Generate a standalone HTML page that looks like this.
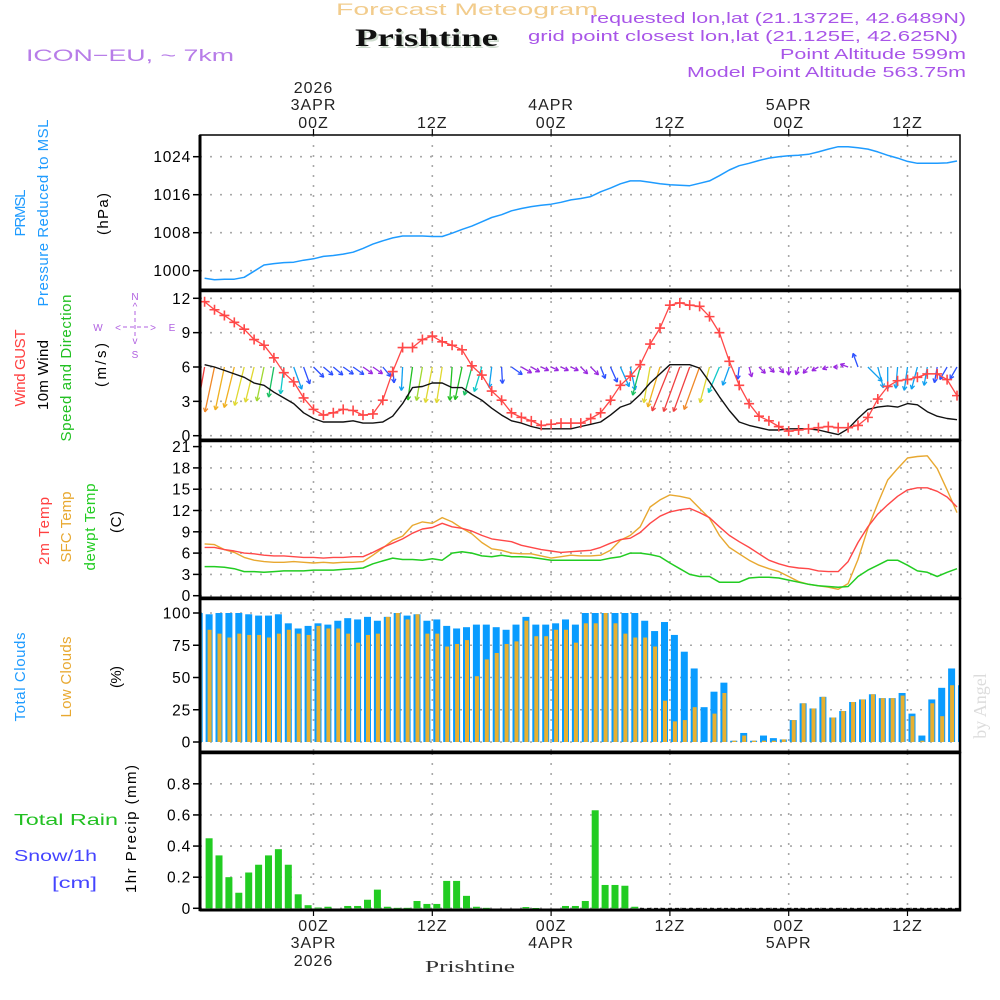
<!DOCTYPE html>
<html><head><meta charset="utf-8"><style>
html,body{margin:0;padding:0;background:#fff;}
svg{display:block;font-family:"Liberation Sans",sans-serif;}
</style></head><body>
<svg id="chart" width="1000" height="1000" viewBox="0 0 1000 1000" xmlns="http://www.w3.org/2000/svg">
<defs>
<clipPath id="c1"><rect x="200" y="135" width="760" height="155"/></clipPath>
<clipPath id="c2"><rect x="200" y="291" width="760" height="149"/></clipPath>
<clipPath id="c3"><rect x="200" y="441" width="760" height="157"/></clipPath>
<clipPath id="c4"><rect x="200" y="599" width="760" height="153"/></clipPath>
<clipPath id="c5"><rect x="200" y="753" width="760" height="157"/></clipPath>
</defs>
<!-- header -->
<text x="336" y="15" font-size="17" fill="#f2cc8c" textLength="262" lengthAdjust="spacingAndGlyphs">Forecast Meteogram</text>
<text x="357" y="48" font-size="25" font-weight="bold" font-family="Liberation Serif,serif" fill="#cfdccf" textLength="143" lengthAdjust="spacingAndGlyphs">Prishtine</text>
<text x="355" y="46" font-size="25" font-weight="bold" font-family="Liberation Serif,serif" fill="#111" textLength="143" lengthAdjust="spacingAndGlyphs">Prishtine</text>
<text x="26" y="61" font-size="17" fill="#b77ce8" textLength="208" lengthAdjust="spacingAndGlyphs">ICON−EU, ~ 7km</text>
<text x="590" y="23" font-size="15" fill="#a855e8" textLength="376" lengthAdjust="spacingAndGlyphs">requested lon,lat (21.1372E, 42.6489N)</text>
<text x="528" y="41" font-size="15" fill="#a855e8" textLength="430" lengthAdjust="spacingAndGlyphs">grid point closest lon,lat (21.125E, 42.625N)</text>
<text x="780" y="59" font-size="15" fill="#a855e8" textLength="186" lengthAdjust="spacingAndGlyphs">Point Altitude 599m</text>
<text x="687" y="77" font-size="15" fill="#a855e8" textLength="279" lengthAdjust="spacingAndGlyphs">Model Point Altitude 563.75m</text>

<!-- left labels -->
<g font-size="15">
<text transform="translate(25,213) rotate(-90)" text-anchor="middle" fill="#1e9bff" textLength="47" lengthAdjust="spacing">PRMSL</text>
<text transform="translate(48,213) rotate(-90)" text-anchor="middle" fill="#1e9bff" textLength="187" lengthAdjust="spacing">Pressure Reduced to MSL</text>
<text transform="translate(108,214) rotate(-90)" text-anchor="middle" fill="#000" textLength="42" lengthAdjust="spacing">(hPa)</text>
<text transform="translate(25,368) rotate(-90)" text-anchor="middle" fill="#ff4040" textLength="77" lengthAdjust="spacing">Wind GUST</text>
<text transform="translate(48,375) rotate(-90)" text-anchor="middle" fill="#000" textLength="70" lengthAdjust="spacing">10m Wind</text>
<text transform="translate(71,368) rotate(-90)" text-anchor="middle" fill="#22c022" textLength="147" lengthAdjust="spacing">Speed and Direction</text>
<text transform="translate(106,365) rotate(-90)" text-anchor="middle" fill="#000" textLength="44" lengthAdjust="spacing">(m/s)</text>
<text transform="translate(49,531) rotate(-90)" text-anchor="middle" fill="#ff4040" textLength="68" lengthAdjust="spacing">2m Temp</text>
<text transform="translate(71,527) rotate(-90)" text-anchor="middle" fill="#e8a830" textLength="71" lengthAdjust="spacing">SFC Temp</text>
<text transform="translate(95,527) rotate(-90)" text-anchor="middle" fill="#22cc22" textLength="87" lengthAdjust="spacing">dewpt Temp</text>
<text transform="translate(121,522) rotate(-90)" text-anchor="middle" fill="#000" textLength="22" lengthAdjust="spacing">(C)</text>
<text transform="translate(25,677) rotate(-90)" text-anchor="middle" fill="#1e9bff" textLength="89" lengthAdjust="spacing">Total Clouds</text>
<text transform="translate(71,677) rotate(-90)" text-anchor="middle" fill="#e8a830" textLength="81" lengthAdjust="spacing">Low Clouds</text>
<text transform="translate(121,677) rotate(-90)" text-anchor="middle" fill="#000" textLength="22" lengthAdjust="spacing">(%)</text>
<text x="14" y="825" font-size="16" fill="#22c022" textLength="104" lengthAdjust="spacingAndGlyphs">Total  Rain</text>
<text x="14" y="861" font-size="16" fill="#4444ff" textLength="83" lengthAdjust="spacingAndGlyphs">Snow/1h</text>
<text x="52" y="888" font-size="16" fill="#4444ff" textLength="45" lengthAdjust="spacingAndGlyphs">[cm]</text>
<text transform="translate(136,829) rotate(-90)" text-anchor="middle" fill="#000" textLength="128" lengthAdjust="spacing">1hr Precip (mm)</text>
</g>
<!-- compass -->
<g fill="#b060e0" font-size="10" text-anchor="middle">
<text x="135" y="300">N</text><text x="135" y="310">^</text>
<text x="98" y="331">W</text><text x="118" y="331">&lt;</text><text x="153" y="331">&gt;</text><text x="172" y="331">E</text>
<text x="135" y="344">v</text><text x="135" y="358">S</text>
<line x1="123" y1="327" x2="148" y2="327" stroke="#b060e0" stroke-dasharray="4 3"/>
<line x1="135" y1="311" x2="135" y2="338" stroke="#b060e0" stroke-dasharray="4 3"/>
</g>
<text transform="translate(986,706) rotate(-90)" text-anchor="middle" font-family="Liberation Serif,serif" font-size="18" fill="#dcdcdc">by Angel</text>
<text x="425" y="972" font-family="Liberation Serif,serif" font-size="17" fill="#333" textLength="90" lengthAdjust="spacingAndGlyphs">Prishtine</text>

<g id="grid"></g>
<g id="marks"></g>
<g id="frames"></g>
<g id="axes"></g>
</svg>
<script>
// ---- data (hourly, hours relative to 00Z 3 APR 2026) ----
const lineStartHour = -11;
const barStartHour = -12;
const pressure = [998.4,998.1,998.2,998.2,998.6,999.9,1001.2,1001.5,1001.7,1001.8,1002.2,
1002.5,1003.0,1003.2,1003.5,1003.9,1004.7,1005.6,1006.3,1006.9,1007.3,1007.3,1007.3,1007.2,1007.2,1007.9,1008.7,1009.4,1010.3,1011.2,1011.8,1012.6,1013.1,1013.5,1013.8,1014.0,1014.4,1014.9,
1015.2,1015.6,1016.6,1017.4,1018.3,1018.9,1018.9,1018.6,1018.3,1018.1,1018.0,1017.9,1018.4,1018.9,1020.0,1021.2,1022.1,1022.6,1023.2,1023.7,1024.0,1024.2,1024.3,1024.5,1025.0,1025.6,1026.1,1026.1,1025.9,1025.6,1025.0,1024.3,1023.7,1023.0,1022.6,1022.6,1022.6,1022.7,1023.1];
const windGust = [11.7,11.0,10.5,9.9,9.3,8.4,7.9,6.8,5.5,4.7,3.3,
2.3,1.8,2.0,2.3,2.2,1.8,1.9,3.1,5.6,7.7,7.7,8.4,8.7,8.2,7.9,7.5,6.1,5.3,3.9,3.1,2.0,1.6,1.3,0.9,1.0,1.1,1.1,
1.1,1.5,2.0,3.1,4.4,5.2,6.2,8.0,9.4,11.4,11.6,11.4,11.3,10.4,9.0,6.5,4.4,2.8,1.7,1.3,0.8,0.4,0.5,0.6,0.7,0.8,0.7,0.7,0.9,1.6,3.2,4.3,4.8,4.9,5.1,5.4,5.4,4.9,3.5];
const windSpeed = [6.2,6.0,5.7,5.4,5.1,4.6,4.4,3.8,3.3,2.8,2.0,
1.5,1.2,1.2,1.2,1.3,1.1,1.1,1.2,1.7,2.8,4.2,4.3,4.6,4.6,4.2,4.2,3.6,3.1,2.4,1.8,1.3,1.1,0.8,0.6,0.6,0.6,0.6,
0.8,1.0,1.2,1.8,2.5,2.8,3.6,4.6,5.4,6.2,6.2,6.2,5.9,4.7,3.4,2.2,1.2,0.9,0.7,0.5,0.5,0.6,0.6,0.6,0.5,0.3,0.1,0.6,1.5,2.3,2.5,2.6,2.5,2.8,2.7,2.1,1.7,1.5,1.4];
const windDir = [10,12,12,14,14,14,12,10,7,-20,-20,
-45,-50,-50,-55,-55,-55,-55,-40,-5,3,8,10,11,9,4,12,15,17,7,-3,-55,-60,-60,-65,-65,-65,-65,
-45,-45,-22,-24,-24,-12,15,10,17,22,20,20,20,15,23,20,7,-15,-45,-45,-40,0,20,40,60,70,90,110,160,-45,-15,0,5,8,15,10,10,30,30];
const temp2m = [6.8,6.8,6.5,6.3,6.0,5.9,5.7,5.6,5.6,5.5,5.4,
5.4,5.3,5.4,5.4,5.5,5.5,6.1,6.8,7.4,8.0,8.8,9.4,9.6,10.2,9.7,9.5,9.1,8.5,8.0,7.8,7.6,7.1,6.8,6.5,6.3,6.1,6.2,6.3,
6.4,6.8,7.4,7.9,8.1,8.9,10.2,11.2,11.8,12.1,12.3,11.7,11.0,9.7,8.5,7.6,6.8,5.9,5.0,4.5,4.1,3.9,3.8,3.5,3.4,3.4,4.8,7.5,9.7,11.5,12.8,14.0,14.9,15.2,15.2,14.7,13.9,12.5];
const tempSfc = [7.3,7.2,6.5,6.1,5.4,5.0,4.8,4.7,4.7,4.8,4.7,
4.6,4.7,4.6,4.7,4.7,4.8,5.7,6.7,7.8,8.4,9.9,10.4,10.2,11.0,10.4,9.5,8.7,7.5,6.6,6.4,6.0,5.9,5.9,5.6,5.3,5.5,5.7,5.6,
5.6,5.7,6.4,7.8,8.5,9.7,12.5,13.5,14.2,14.0,13.7,12.3,10.9,8.5,6.8,5.9,5.0,4.3,3.8,3.4,2.7,2.0,1.6,1.4,1.2,0.9,1.7,5.1,9.5,13.0,16.3,17.9,19.4,19.6,19.7,17.9,14.9,11.7];
const dewPoint = [4.1,4.1,4.0,3.8,3.4,3.4,3.3,3.4,3.5,3.5,3.5,
3.6,3.6,3.6,3.7,3.8,3.9,4.5,4.9,5.3,5.1,5.1,5.0,5.2,5.0,6.0,6.2,6.0,5.6,5.5,5.7,5.5,5.5,5.4,5.2,5.0,5.0,5.0,5.0,
5.0,5.0,5.3,5.5,6.0,6.0,5.8,5.5,4.6,3.8,3.0,2.7,2.7,1.9,1.9,1.9,2.5,2.6,2.6,2.5,2.2,1.9,1.6,1.4,1.3,1.2,1.3,2.7,3.6,4.3,5.0,5.0,4.3,3.5,3.3,2.7,3.3,3.8];
const totalClouds = [100,99,100,100,100,99,98,98,99,92,88,90,92,91,94,96,95,97,94,97,100,98,99,94,95,90,88,89,91,91,89,87,91,97,91,91,92,95,91,100,
100,100,100,100,100,94,86,93,83,70,57,27,39,46,1,7,1,5,3,2,17,30,26,35,19,24,31,33,37,34,34,38,22,5,33,42,57,44];
const lowClouds = [87,87,84,81,84,83,83,81,84,87,84,83,90,88,88,84,77,83,84,97,100,95,99,84,84,74,76,79,51,64,69,76,78,94,82,82,87,87,77,92,
92,100,92,84,81,81,74,32,16,17,27,0,22,38,1,5,1,1,1,2,17,30,26,35,19,24,31,33,37,34,34,36,20,1,30,20,44,35];
const precip = [0,0.45,0.34,0.20,0.10,0.23,0.28,0.34,0.38,0.28,0.09,0.02,0.005,0.01,0,0.015,0.015,0.055,0.12,0.01,0.003,0.003,0.047,0.028,0.028,0.176,0.176,0.08,0.01,0.003,0,0,0,0.008,0.002,0,0,0.015,0.015,0.047,0.63,0.15,0.15,0.145,0.01,
0,0,0,0,0,0,0,0,0,0,0,0,0,0,0,0,0,0,0,0,0,0,0,0,0,0,0,0,0,0,0,0,0];
const pressureTicks = [1000,1008,1016,1024];
const windTicks = [0,3,6,9,12];
const tempTicks = [0,3,6,9,12,15,18,21];
const cloudTicks = [0,25,50,75,100];
const precipTicks = [0,0.2,0.4,0.6,0.8];
const precipTickLabels = ["0","0.2","0.4","0.6","0.8"];
const timeTickHours = [0,12,24,36,48,60];
const timeTickLabels = ["00Z","12Z","00Z","12Z","00Z","12Z"];
const dateLabels = [["2026","3APR"],[],["4APR"],[],["5APR"],[]];

// ---- scales ----
const NS="http://www.w3.org/2000/svg";
const X0=200, X1=960;
function xOf(h){return 313.5+h*9.9;}
function yP(p){return 270.7-(p-1000)*4.75;}
function yW(v){return 435.7-v*11.45;}
function yT(t){return 595.7-t*7.1;}
function yC(c){return 742-c*1.29;}
function yR(v){return 908.3-v*155.6;}
function mk(tag,attrs,parent){const e=document.createElementNS(NS,tag);for(const k in attrs)e.setAttribute(k,attrs[k]);parent.appendChild(e);return e;}
const grid=document.getElementById('grid'), marks=document.getElementById('marks'), frames=document.getElementById('frames'), axes=document.getElementById('axes');
const panels=[{t:135,b:290,c:'c1'},{t:291,b:440,c:'c2'},{t:441,b:598,c:'c3'},{t:599,b:752,c:'c4'},{t:753,b:910,c:'c5'}];

function hgrid(ticks,yf,labels,name){
  ticks.forEach((v,i)=>{
    const y=yf(v);
    const g=mk('line',{x1:X0,x2:X1,y1:y,y2:y,stroke:'#a8a8a8','stroke-width':1.6,'stroke-dasharray':'2 8'},grid);
    
    
    const t=mk('line',{x1:193,x2:X0,y1:y,y2:y,stroke:'#000','stroke-width':1.5},axes);
    
    
    const l=mk('text',{x:191,y:y+5.5,'text-anchor':'end','font-size':15.5,fill:'#000','letter-spacing':'0.8'},axes);
    l.textContent=labels?labels[i]:String(v);
    
    
  });
}
hgrid(pressureTicks,yP,null,'pressure');
hgrid(windTicks,yW,null,'wind');
hgrid(tempTicks,yT,null,'temp');
hgrid(cloudTicks,yC,null,'cloud');
hgrid(precipTicks,yR,precipTickLabels,'precip');
timeTickHours.forEach((h,i)=>{
  const x=xOf(h);
  panels.forEach(p=>{
    const g=mk('line',{x1:x,x2:x,y1:p.t,y2:p.b,stroke:'#a8a8a8','stroke-width':1.6,'stroke-dasharray':'2 8'},grid);
    
    
  });
  const tt=mk('line',{x1:x,x2:x,y1:129,y2:135,stroke:'#000','stroke-width':1.2},axes);
  
  
  const tb=mk('line',{x1:x,x2:x,y1:910,y2:916,stroke:'#000','stroke-width':1.2},axes);
  
  
  const top=mk('text',{x:x,y:128,'text-anchor':'middle','font-size':16,fill:'#222','letter-spacing':'1'},axes);
  top.textContent=timeTickLabels[i];
  
  
  const bot=mk('text',{x:x,y:931,'text-anchor':'middle','font-size':16,fill:'#222','letter-spacing':'1'},axes);
  bot.textContent=timeTickLabels[i];
  
  
  const dl=dateLabels[i];
  if(dl.length){
    dl.slice().reverse().forEach((s,j)=>{
      const a=mk('text',{x:x,y:110-17*j,'text-anchor':'middle','font-size':16,fill:'#222','letter-spacing':'1'},axes);
      a.textContent=s;
      
      
    });
    const bl=dl.length===2?[dl[1],dl[0]]:dl;
    bl.forEach((s,j)=>{
      const a=mk('text',{x:x,y:948+18*j,'text-anchor':'middle','font-size':16,fill:'#222','letter-spacing':'1'},axes);
      a.textContent=s;
      
      
    });
  }
});

function polyline(arr,yf,color,clip,name,w){
  const pts=arr.map((v,i)=>xOf(lineStartHour+i).toFixed(1)+','+yf(v).toFixed(1)).join(' ');
  const pl=mk('polyline',{points:pts,fill:'none',stroke:color,'stroke-width':w||1.5,'clip-path':'url(#'+clip+')','stroke-linejoin':'round'},marks);
  
  
  return pl;
}
polyline(pressure,yP,'#1e9bff','c1','pressure-line');
const speedStops=[[0,'#9a28e0'],[1.15,'#2c50ff'],[2.1,'#10a0f0'],[2.9,'#10c8c8'],[3.5,'#18c060'],[3.9,'#22c022'],[4.3,'#a0d830'],[4.5,'#e0d830'],[5.2,'#f0b020'],[5.8,'#f08828'],[6.15,'#f04040']];
function speedColor(s){let c=speedStops[0][1];speedStops.forEach(st=>{if(s>=st[0])c=st[1];});return c;}
const arrowG=mk('g',{'clip-path':'url(#c2)'},marks);


windDir.forEach((d,i)=>{
  const s=windSpeed[i], h=lineStartHour+i;
  const x0=xOf(h), y0=yW(6);
  const L=4+7*s, r=d*Math.PI/180;
  const dx=-Math.sin(r), dy=Math.cos(r);
  const x1=x0+dx*L, y1=y0+dy*L;
  const col=speedColor(s);
  const g=mk('g',{stroke:col,'stroke-width':1.3,fill:'none'},arrowG);
  
  
  mk('line',{x1:x0,y1:y0,x2:x1,y2:y1},g);
  const hl=4.5, a=0.5;
  const bx=-dx, by=-dy;
  const c=Math.cos(a), sn=Math.sin(a);
  mk('line',{x1:x1,y1:y1,x2:x1+hl*(bx*c-by*sn),y2:y1+hl*(bx*sn+by*c)},g);
  mk('line',{x1:x1,y1:y1,x2:x1+hl*(bx*c+by*sn),y2:y1+hl*(-bx*sn+by*c)},g);
});
polyline(windSpeed,yW,'#111','c2','wind-speed-line',1.4);
polyline(windGust,yW,'#ff4848','c2','wind-gust-line',1.3);
const gm=mk('g',{'clip-path':'url(#c2)',stroke:'#ff4848','stroke-width':1.6},marks);


windGust.forEach((v,i)=>{
  const x=xOf(lineStartHour+i), y=yW(v);
  const m=mk('path',{d:`M${x-5},${y}H${x+5}M${x},${y-5}V${y+5}`},gm);
  
  
});
polyline(tempSfc,yT,'#e8a830','c3','sfc-temp-line',1.4);
polyline(temp2m,yT,'#ff4848','c3','temp-2m-line',1.4);
polyline(dewPoint,yT,'#22cc22','c3','dewpoint-line',1.5);
const cg=mk('g',{'clip-path':'url(#c4)'},marks);
totalClouds.forEach((v,i)=>{
  const h=barStartHour+i, x=xOf(h);
  const b=mk('rect',{x:x+1,y:yC(v),width:7,height:yC(0)-yC(v),fill:'#0a9cff'},cg);
  
  
  const lv=lowClouds[i];
  const o=mk('rect',{x:x+3,y:yC(lv),width:4,height:yC(0)-yC(lv),fill:'#e8b030'},cg);
  
  
});
const pg=mk('g',{'clip-path':'url(#c5)'},marks);
precip.forEach((v,i)=>{
  const h=barStartHour+i, x=xOf(h);
  if(v<=0)return;
  const b=mk('rect',{x:x+1,y:yR(v),width:7,height:Math.max(0.6,yR(0)-yR(v)),fill:'#22cc22'},pg);
  
  
});
const sl=mk('line',{x1:640,x2:X1,y1:908.5,y2:908.5,stroke:'#222','stroke-width':1.2,'stroke-dasharray':'4 3'},marks);


panels.forEach((p,i)=>{
  const r=mk('rect',{x:X0,y:p.t,width:X1-X0,height:p.b-p.t,fill:'none',stroke:'#000','stroke-width':i===0?1.5:2.5},frames);
  
  
});
[290,440,598,752,910].forEach(y=>{
  const l=mk('line',{x1:X0,x2:X1+1,y1:y,y2:y,stroke:'#000','stroke-width':3},frames);
  
  
});
const ax=mk('line',{x1:X0,x2:X0,y1:135,y2:911,stroke:'#000','stroke-width':3},frames);


</script>
</body></html>
